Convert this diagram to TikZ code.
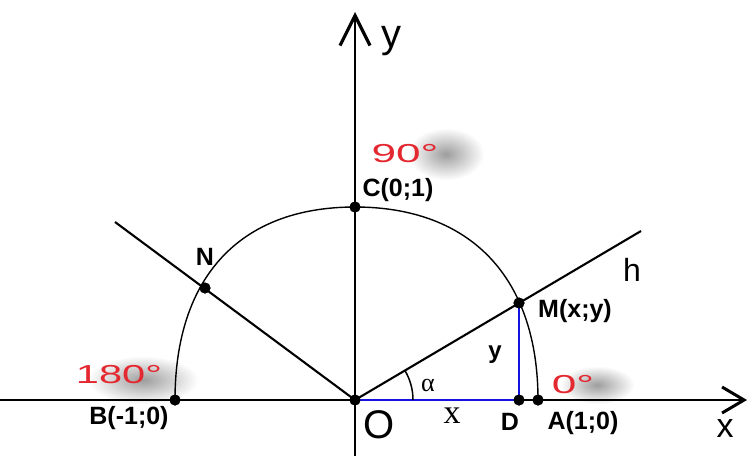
\documentclass[tikz,border=0pt]{standalone}
\usepackage{fontspec}
\usepackage{graphicx}
\setmainfont{Liberation Sans}
\newfontfamily\seriffont{Liberation Serif}
\usetikzlibrary{arrows.meta,fadings}
\tikzfading[name=softblob, inner color=transparent!15, outer color=transparent!100]
\definecolor{degred}{RGB}{228,40,48}
\definecolor{segblue}{RGB}{20,20,225}
\tikzset{
  dot/.style={circle,fill=black,inner sep=0pt,minimum size=11pt},
  lbl/.style={font=\fontsize{25}{28}\selectfont\bfseries, inner sep=0pt},
  deg/.style={text=degred, font=\fontsize{26}{28}\selectfont, inner sep=0pt},
  smudge/.style={fill=black!45, path fading=softblob},
  axis/.style={line width=2.8pt},
  ray/.style={line width=2.1pt},
  seg/.style={segblue, line width=2.8pt},
  circ/.style={line width=1.4pt},
}
\begin{document}
\begin{tikzpicture}[x=1pt,y=-1pt]
\useasboundingbox (0,0) rectangle (749,456);
% shadows of the degree labels
\fill[smudge] (408,128) rectangle (484,180);
\fill[smudge] (560,366) rectangle (634,404);
\fill[smudge] (88,356) rectangle (198,404);
% points
\coordinate (xL) at (0,400);
\coordinate (xR) at (747,400);
\coordinate (yB) at (355,456);
\coordinate (yT) at (355,12);
\coordinate (hEnd) at (641,231);
\coordinate (nEnd) at (115,222);
\node[dot] (O) at (355,400) {};
\node[dot] (A) at (538,400) {};
\node[dot] (B) at (175,400) {};
\node[dot] (C) at (355,207) {};
\node[dot] (D) at (519,400) {};
\node[dot] (M) at (519,303) {};
\node[dot] (N) at (205,288) {};
% semicircle
\draw[circ] (A.center) .. controls (538,278) and (471,207) .. (C.center)
            .. controls (239,207) and (175,278) .. (B.center);
% rays
\draw[ray] (O.center) -- (hEnd);
\draw[ray] (O.center) -- (nEnd);
% axes
\draw[axis, -{Straight Barb[length=22pt,width=26pt,line width=3pt]}] (xL) -- (xR);
\draw[axis, -{Straight Barb[length=30pt,width=30pt,line width=3.2pt]}] (yB) -- (yT);
% blue segments
\draw[seg] (O.center) -- (D.center) -- (M.center);
% angle mark
\draw[line width=1.5pt] (413,400) .. controls (413,389.6) and (410.2,379.5) .. (405,370.6);
% dots on top
\foreach \p in {O,A,B,C,D,M,N} \fill (\p) circle (5.5pt);
% labels
\node[font=\fontsize{40}{44}\selectfont, inner sep=0pt] (ylab) at (391,41) {y};
\node[font=\fontsize{34}{38}\selectfont, inner sep=0pt] (xlab) at (725,429) {x};
\node[font=\fontsize{40}{44}\selectfont, inner sep=0pt] (Olab) at (379,425) {O};
\node[lbl] (Clab) at (398,190) {C(0;1)};
\node[lbl] (Nlab) at (205,257) {N};
\node[lbl] (Blab) at (129,418) {B(-1;0)};
\node[lbl] (Mlab) at (575,311) {M(x;y)};
\node[lbl] (Dlab) at (510,422) {D};
\node[lbl] (Alab) at (583,423) {A(1;0)};
\node[font=\fontsize{32}{36}\selectfont, inner sep=0pt] (hlab) at (632,270) {h};
\node[font=\fontsize{24}{28}\selectfont\bfseries, inner sep=0pt] (ylen) at (495,355) {y};
\node[font=\fontsize{34}{38}\selectfont\seriffont, inner sep=0pt] (xlen) at (452,416) {x};
\node[font=\fontsize{26}{28}\selectfont\seriffont, inner sep=0pt] (alab) at (428,385) {α};
\node[deg] (d90) at (405,154) {\scalebox{1.7}[1]{90°}};
\node[deg] (d180) at (119,375) {\scalebox{1.6}[1]{180°}};
\node[deg] (d0) at (573,385) {\scalebox{1.7}[1]{0°}};
\end{tikzpicture}
\end{document}
